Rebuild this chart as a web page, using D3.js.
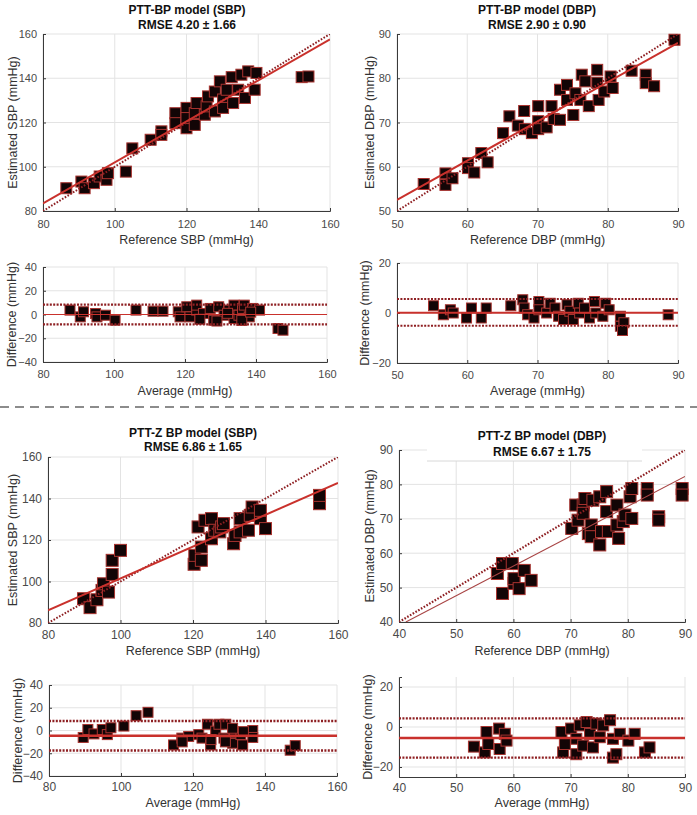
<!DOCTYPE html>
<html><head><meta charset="utf-8">
<script src="https://cdn.jsdelivr.net/npm/d3@7"></script>
<style>body{margin:0;background:#fff}svg{display:block;font-family:"Liberation Sans",Arial,Helvetica,sans-serif}</style>
</head><body><svg id="c" width="697" height="815"></svg>
<script>
// ---------- DATA ----------
// Top-left: PTT-BP model (SBP) scatter
const sbpRefA = [86.5,90.7,91.6,94.2,95.8,97.7,98.1,103.1,104.9,110,113,113,116.9,116.9,120,120,120,122.3,122.3,122.8,125.1,125.6,126,127.9,127.9,129.3,130.2,130.2,131.2,132.6,133,134.4,135.3,136.3,137.2,139,139.5,152.1,154];
const sbpEstA = [90.3,93.3,90.3,92.6,95.6,94.1,97.1,97.8,108.3,112.2,116,114.4,124.2,119.7,117.4,126.6,122,118.9,124.2,128.8,123.5,127.3,131.8,134,125,138.6,130.4,126.6,134.8,140.5,128.8,134.8,141.6,131.1,143.1,134.8,142.4,140.5,140.8];
const sbpFitA = [[80,83.4],[160,157.6]];
// Top-left Bland-Altman
const sbpAvgA = [87.6,90.5,91.4,94.8,95.2,97.6,100.3,106.2,111,113.8,118.1,118.6,120.5,121.4,123.3,123.3,125.2,127.1,128.1,129.5,131,132.4,133.8,133.8,135.2,136.2,136.7,138.1,139,141,146.2,147.6,124.2,129,132,136,138.5];
const sbpDiffA = [3.7,-2,2.3,0.8,-2,-0.6,-4.8,3.7,2.8,2.8,2.3,-2,6.5,-2,3.7,7.9,0.8,5.1,-4.8,6.5,-0.6,3.7,7.9,-3.4,-0.6,5.1,7.9,-2,5.1,3.7,-11.8,-13.2,-4,-5.5,1,-5,2];
const sbpBaA = {mean:0, upper:8.3, lower:-8.3};
// Top-right: PTT-BP model (DBP)
const dbpRefA = [53.8,56.9,56.9,57.9,60.1,60.1,61,62,62.9,65.1,66,67.2,68.1,68.2,69.2,70.1,70.1,70.1,71.3,72,72.3,73.2,73.2,74.2,74.2,75.1,75.4,76.1,76.3,76.8,77.3,78.5,78.5,78.7,79.5,80.4,80.7,83.4,85.4,85.4,86.6,89.5];
const dbpEstA = [56.1,58.5,55.9,57.4,60.8,59.7,58.7,63.1,61,67.6,71.4,69.3,72.6,68.5,67.6,73.7,70.3,68.5,68.9,73.7,70.8,77.4,70.6,78.5,75.1,71.7,76.6,75.1,80.8,79.3,73.7,81.9,79,75.1,77,80.4,77.8,81.7,80.8,78.9,78.2,88.7];
const dbpFitA = [[50,52.5],[90,88]];
const dbpAvgA = [55.2,56.6,57.6,58,59.9,60.6,62,62.7,66.2,67.9,68.1,68.6,69.5,70.2,70.2,71.3,71.8,72.5,73,73.7,74.2,74.6,75.1,75.8,76,76.7,77.4,78.1,78.3,79.3,79.7,80.2,81.8,81.8,82.3,82.1,88.6];
const dbpDiffA = [2.9,-0.7,1.3,0,-2,2,-2,2,2.9,5.3,2,-0.7,-2,4.6,1.3,0,3.9,2,-1.3,-2.6,3.3,0.7,-2.6,3.9,0,2,-2,4.6,0,-1.3,3.9,1.3,-1.3,-5.3,-3.9,-7,-0.7];
const dbpBaA = {mean:0.1, upper:5.6, lower:-5.1};
// Bottom-left: PTT-Z BP model (SBP)
const sbpRefB = [89.8,91.6,93.5,94.9,95.3,96.7,97.7,97.7,100,120.3,120.5,121.4,122.3,122.3,123.3,125.1,125.1,126,127.4,127.9,128.4,131.2,131.6,133,133,135.3,135.8,136.3,138.6,138.6,140,154.9,154.9];
const sbpEstB = [91.7,87.4,91.2,95.7,98.9,94.9,103.4,110.2,115,108.3,112.6,126.3,116.6,110.2,129.5,130.3,120.6,124.7,123.9,126.3,127.9,118.2,122.2,130.3,123.9,124.7,131.9,135.9,130.3,134.3,125.5,137.5,141.5];
const sbpFitB = [[80,86.1],[160,147.5]];
const sbpAvgB = [89.5,90.8,92.5,94.8,96.2,97.2,100.8,104.2,107.5,114.6,116.9,118.8,121.6,122.5,124,124.9,126.3,127.2,128.6,129.1,131,131.5,133.3,133.8,136.6,136.6,147,148.4,117,125,129,131,134];
const sbpDiffB = [-6.1,0.9,-3,0.9,-3.6,2.4,3.9,13,16,-12.7,-6.7,-5.2,-3.6,-6.7,5.5,-12.7,-0.6,5.5,-6.7,5.5,-11.2,-2.1,-3.6,-12.7,0,-6.1,-17.3,-13.3,-10,-8,-10,2,-1];
const sbpBaB = {mean:-4.6, upper:8.4, lower:-17.6};
// Bottom-right: PTT-Z BP model (DBP)
const dbpRefB = [57.2,58.1,58.1,59.8,60.1,60.1,61,61.9,63.1,70.2,70.9,71.3,72.2,72.2,72.5,73.1,73.6,73.6,73.9,75.1,75.1,75.4,76.3,76.3,76.6,78.1,78.1,78.4,79.2,79.5,80.4,80.7,80.7,83.4,83.4,85.4,85.4,89.5,89.5];
const dbpEstB = [54.1,57,48.3,57,51.2,52.6,49.7,55,52.1,67.2,74,69.6,74,71.6,75.9,65.7,68.2,64.8,75.4,76.4,62.4,66.3,77.9,72.1,66.3,74,68.2,64.3,69.2,71.1,76.4,78.8,70.1,78.8,76.9,70.6,69.6,78.8,76.9];
const dbpFitB = [[41.2,40],[90,82.3]];
const dbpAvgB = [53.1,55,55.3,55.6,57.5,57.6,58.5,58.8,68.4,68.7,69,70.1,71,71,71.6,72.2,72.8,73.4,73.9,74.5,75.1,75.7,76.9,77.4,77.4,78,78.6,80.1,81.2,83,83.8];
const dbpDiffB = [-9.8,-12.7,-2.5,-8.5,-0.8,-11,-3.4,-6.8,-2.5,-12.7,-8.5,-0.8,-5.9,-13.6,0.8,-9.3,2.5,-3.4,-10.2,1.7,-5.1,0.8,3.4,-5.9,-15.3,-13.6,-3.4,-6.8,-3.4,-12.7,-10.2];
const dbpBaB = {mean:-5.5, upper:4.3, lower:-15.3};
// Ticks & texts
const sbpTicks = [80,100,120,140,160];
const dbpTicksA = [50,60,70,80,90];
const dbpTicksB = [40,50,60,70,80,90];
const diffTicks40 = [-40,-20,0,20,40];
const diffTicks20 = [-20,0,20];
const titles = [["PTT-BP model (SBP)","RMSE 4.20 \u00b1 1.66"],["PTT-BP model (DBP)","RMSE 2.90 \u00b1 0.90"],["PTT-Z BP model (SBP)","RMSE 6.86 \u00b1 1.65"],["PTT-Z BP model (DBP)","RMSE 6.67 \u00b1 1.75"]];

// ---------- DRAWING ----------
const svg = d3.select("#c");
const RED = "#c9312c", DOT = "#8e1f22", MFILL = "#120506", MSTROKE = "#a8332f";
let clipId = 0;

function panel(o){
  const x = d3.scaleLinear().domain(o.xd).range([o.x0,o.x1]);
  const y = d3.scaleLinear().domain(o.yd).range([o.y1,o.y0]);
  const g = svg.append("g");
  const cid = "cl"+(clipId++);
  svg.append("clipPath").attr("id",cid).append("rect")
     .attr("x",o.x0).attr("y",o.y0).attr("width",o.x1-o.x0).attr("height",o.y1-o.y0);
  // grid
  g.append("g").selectAll("line").data(o.xt).join("line")
    .attr("x1",d=>x(d)).attr("x2",d=>x(d)).attr("y1",o.y0).attr("y2",o.y1)
    .attr("stroke","#e3e3e3").attr("stroke-width",1);
  g.append("g").selectAll("line").data(o.yt).join("line")
    .attr("y1",d=>y(d)).attr("y2",d=>y(d)).attr("x1",o.x0).attr("x2",o.x1)
    .attr("stroke","#e3e3e3").attr("stroke-width",1);
  // axes
  const fs = o.fs||11;
  const ax = g.append("g").attr("transform",`translate(0,${o.y1})`)
    .call(d3.axisBottom(x).tickValues(o.xt).tickSize(-3).tickPadding(o.xpad||7).tickFormat(d3.format("d")));
  const ay = g.append("g").attr("transform",`translate(${o.x0},0)`)
    .call(d3.axisLeft(y).tickValues(o.yt).tickSize(-3).tickPadding(o.ypad||6).tickFormat(d3.format("d")));
  [ax,ay].forEach(a=>{
    a.select(".domain").attr("stroke","#3a3a3a").attr("stroke-width",1);
    a.selectAll(".tick line").attr("stroke","#3a3a3a");
    a.selectAll(".tick text").attr("fill","#4a4a4a").style("font-size",fs+"px").style("font-family","'Liberation Sans',Arial,sans-serif");
  });
  // markers
  const s = o.ms;
  g.append("g").selectAll("rect").data(o.xs.map((v,i)=>[v,o.ys[i]])).join("rect")
    .attr("x",d=>x(d[0])-s/2).attr("y",d=>y(d[1])-s/2).attr("width",s).attr("height",s)
    .attr("fill",MFILL).attr("stroke",MSTROKE).attr("stroke-width",1);
  // lines
  const lg = g.append("g").attr("clip-path",`url(#${cid})`);
  o.lines.forEach(L=>{
    lg.append("line").attr("x1",x(L.p[0][0])).attr("y1",y(L.p[0][1]))
      .attr("x2",x(L.p[1][0])).attr("y2",y(L.p[1][1]))
      .attr("stroke",L.c).attr("stroke-width",L.w).attr("stroke-dasharray",L.dash||null);
  });
  // labels
  svg.append("text").attr("x",(o.x0+o.x1)/2).attr("y",o.xlabY).attr("text-anchor","middle")
    .attr("dominant-baseline","central").attr("fill","#333").style("font-size",(o.lfs||12.5)+"px").text(o.xlabel);
  svg.append("text").attr("transform",`translate(${o.ylabX},${(o.y0+o.y1)/2}) rotate(-90)`)
    .attr("text-anchor","middle").attr("dominant-baseline","central").attr("fill","#333")
    .style("font-size",(o.lfs||12.5)+"px").text(o.ylabel);
  return {x,y};
}

function title(t,cx,b1,b2){
  svg.append("text").attr("x",cx).attr("y",b1).attr("text-anchor","middle").attr("font-weight","bold")
    .attr("fill","#111").style("font-size","12px").text(t[0]);
  svg.append("text").attr("x",cx).attr("y",b2).attr("text-anchor","middle").attr("font-weight","bold")
    .attr("fill","#111").style("font-size","12px").text(t[1]);
}
function baLines(d,xd,mw,lw){
  return [
    {p:[[xd[0],d.upper],[xd[1],d.upper]],c:DOT,w:lw,dash:"2,1.4"},
    {p:[[xd[0],d.lower],[xd[1],d.lower]],c:DOT,w:lw,dash:"2,1.4"},
    {p:[[xd[0],d.mean],[xd[1],d.mean]],c:RED,w:mw}
  ];
}
function idLine(xd,w){ return {p:[[xd[0],xd[0]],[xd[1],xd[1]]],c:DOT,w:w,dash:"1.6,1.6"}; }

// Panel A
panel({x0:43,x1:330,y0:34,y1:211,xd:[80,160],yd:[80,160],xt:sbpTicks,yt:sbpTicks,xs:sbpRefA,ys:sbpEstA,ms:11,xpad:9,
  lines:[idLine([80,160],2),{p:sbpFitA,c:RED,w:2}],xlabel:"Reference SBP (mmHg)",ylabel:"Estimated SBP (mmHg)",xlabY:240,ylabX:13});
title(titles[0],187,14,29);
panel({x0:43,x1:327,y0:267,y1:362,xd:[80,160],yd:[-40,40],xt:sbpTicks,yt:diffTicks40,xs:sbpAvgA,ys:sbpDiffA,ms:10,xpad:8,
  lines:baLines(sbpBaA,[80,160],1.2,2.2),xlabel:"Average (mmHg)",ylabel:"Difference (mmHg)",xlabY:391,ylabX:12});
// Panel C
panel({x0:397,x1:678,y0:34,y1:211,xd:[50,90],yd:[50,90],xt:dbpTicksA,yt:dbpTicksA,xs:dbpRefA,ys:dbpEstA,ms:11,xpad:9,
  lines:[idLine([50,90],2),{p:dbpFitA,c:RED,w:2}],xlabel:"Reference DBP (mmHg)",ylabel:"Estimated DBP (mmHg)",xlabY:240,ylabX:370});
title(titles[1],537,14,29);
panel({x0:397,x1:678,y0:263,y1:363,xd:[50,90],yd:[-20,20],xt:dbpTicksA,yt:diffTicks20,xs:dbpAvgA,ys:dbpDiffA,ms:10,xpad:8,
  lines:baLines(dbpBaA,[50,90],1.8,2.2),xlabel:"Average (mmHg)",ylabel:"Difference (mmHg)",xlabY:391,ylabX:365});

// separator
svg.append("line").attr("x1",0).attr("x2",697).attr("y1",407).attr("y2",407)
  .attr("stroke","#8c8c8c").attr("stroke-width",2).attr("stroke-dasharray","9,6");

// Panel E
panel({x0:48,x1:338,y0:457,y1:623,xd:[80,160],yd:[80,160],xt:sbpTicks,yt:sbpTicks,xs:sbpRefB,ys:sbpEstB,ms:12,fs:12,
  lines:[idLine([80,160],2),{p:sbpFitB,c:RED,w:2}],xlabel:"Reference SBP (mmHg)",ylabel:"Estimated SBP (mmHg)",xlabY:651,ylabX:13,xpad:7});
title(titles[2],193,437,451);
panel({x0:49,x1:337,y0:685,y1:776,xd:[80,160],yd:[-40,40],xt:sbpTicks,yt:diffTicks40,xs:sbpAvgB,ys:sbpDiffB,ms:10,fs:12,
  lines:baLines(sbpBaB,[80,160],2.5,2.4),xlabel:"Average (mmHg)",ylabel:"Difference (mmHg)",xlabY:803,ylabX:18,xpad:6});
// Panel F
panel({x0:399,x1:685,y0:450,y1:622,xd:[40,90],yd:[40,90],xt:dbpTicksB,yt:dbpTicksB,xs:dbpRefB,ys:dbpEstB,ms:12,fs:12,
  lines:[idLine([40,90],2.2),{p:dbpFitB,c:"#a84444",w:1.1}],xlabel:"Reference DBP (mmHg)",ylabel:"Estimated DBP (mmHg)",xlabY:651,ylabX:370,xpad:7});
svg.append("rect").attr("x",427).attr("y",444).attr("width",215).attr("height",17).attr("fill","#fff");
svg.append("line").attr("x1",427).attr("x2",642).attr("y1",461).attr("y2",461).attr("stroke","#d8d8d8");
title(titles[3],542,440,456);
panel({x0:399,x1:685,y0:677,y1:777,xd:[40,90],yd:[-25,25],xt:dbpTicksB,yt:diffTicks20,xs:dbpAvgB,ys:dbpDiffB,ms:11,fs:12,
  lines:baLines(dbpBaB,[40,90],2.5,2.2),xlabel:"Average (mmHg)",ylabel:"Difference (mmHg)",xlabY:803,ylabX:368,xpad:6});
</script></body></html>
